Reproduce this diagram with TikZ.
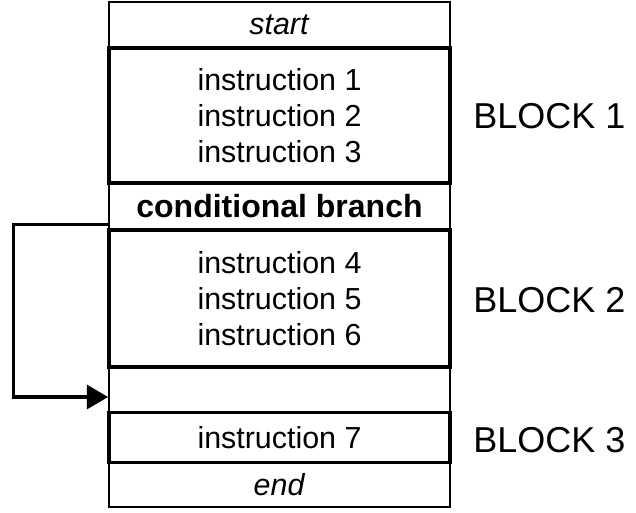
\documentclass[tikz,border=0pt]{standalone}
\usepackage{fontspec}
\setmainfont{Liberation Sans}
\usetikzlibrary{arrows.meta}
\tikzset{
  cell/.style={draw, line width=1.3pt, minimum width=255.75pt, inner sep=0pt,
    font=\fontsize{22.8}{27}\selectfont, align=center},
  blockcell/.style={cell, line width=2.4pt},
  blocklabel/.style={anchor=west, inner sep=0pt, font=\fontsize{27}{30}\selectfont},
  branch/.style={line width=2.4pt, -{Triangle[length=16pt,width=18pt]}}
}
\begin{document}
\begin{tikzpicture}[x=0.75pt,y=-0.75pt]
\useasboundingbox (0,0) rectangle (636,512);
% thin rows
\node[cell, minimum height=34.5pt] (start) at (279.5,25) {\textit{start}};
\node[cell, minimum height=35.25pt, font=\bfseries\fontsize{24}{28}\selectfont] (cond) at (279.5,206.5) {conditional branch};
\node[cell, minimum height=34.5pt] (gap) at (279.5,390) {};
\node[cell, minimum height=33pt] (end) at (279.5,485) {\textit{end}};
% thick blocks
\node[blockcell, minimum height=101.25pt] (block1) at (279.5,115.5) {instruction 1\\instruction 2\\instruction 3};
\node[blockcell, minimum height=102.75pt] (block2) at (279.5,298.5) {instruction 4\\instruction 5\\instruction 6};
\node[blockcell, minimum height=37.5pt] (block3) at (279.5,437.5) {instruction 7};
% labels
\node[blocklabel] (label1) at (473,116.5) {BLOCK 1};
\node[blocklabel] (label2) at (473,300) {BLOCK 2};
\node[blocklabel] (label3) at (473,440) {BLOCK 3};
% jump
\draw[branch] ([yshift=4.5pt]cond.south west) -- ++(-95,0) |- ([yshift=-5.25pt]gap.west);
\end{tikzpicture}
\end{document}
